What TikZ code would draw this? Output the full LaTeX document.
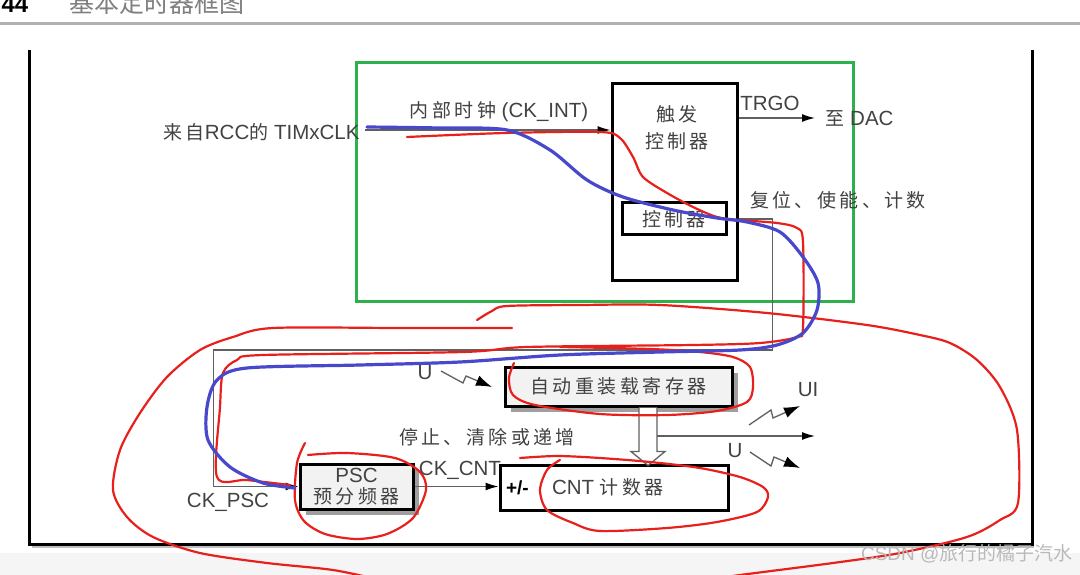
\documentclass[tikz,border=0pt]{standalone}
\usepackage{fontspec}
\setmainfont{Liberation Sans}
\newfontfamily\cjk[LetterSpace=18]{Noto Sans CJK SC}
\newfontfamily\cjktight{Noto Sans CJK SC}
\newcommand{\zh}[1]{{\cjk\fontsize{19}{22}\selectfont #1}}
\usetikzlibrary{positioning,arrows.meta,shadows}
\definecolor{inkgray}{RGB}{66,66,66}
\definecolor{penred}{RGB}{232,32,28}
\definecolor{penblue}{RGB}{72,72,205}
\definecolor{framegreen}{RGB}{46,176,74}
\definecolor{boxfill}{RGB}{242,242,242}

\begin{document}
\begin{tikzpicture}[
	x=1pt, y=-1pt,
	font=\fontsize{20.5}{23}\selectfont,
	text=inkgray
]
\tikzset{
    blk/.style = {draw=black, line width=3pt, fill=white, inner sep=0pt},
    regblk/.style = {blk, fill=boxfill, drop shadow={shadow xshift=6pt, shadow yshift=-6pt, fill=gray!75, opacity=1}},
    cjklabel/.style = {font=\cjk\fontsize{19}{22}\selectfont},
    wire/.style = {draw=gray!75!black, line width=1.3pt},
    sigarrow/.style = {-{Latex[length=13pt,width=8pt,color=black]}},
    zap/.style = {wire, line join=miter, -{Latex[length=16pt,width=11pt,color=black]}},
    redpen/.style = {draw=penred, line width=2.2pt, line cap=round, line join=round},
    bluepen/.style = {draw=penblue, line width=3.2pt, line cap=round, line join=round},
}
    \clip (0,0) rectangle (1080,575);
    \fill[white] (0,0) rectangle (1080,575);
    \fill[gray!8] (0,553) rectangle (1080,575);

    % page header, cut off at the top
    \node[anchor=base west, font=\fontsize{24}{24}\selectfont\bfseries, text=black] (pgno) at (-2,13) {44};
    \node[anchor=base west, font=\cjktight\fontsize{25}{25}\selectfont, text=gray] (title) at (66,13) {基本定时器框图};
    \draw[gray!60, line width=3pt] (0,24) -- (1080,24);

    % frame of the figure
    \draw[gray!50, line width=2pt] (32,547) -- (1034,547);
    \draw[line width=3pt, black] (29,50) -- (29,544) -- (1032,544) -- (1032,50);
    \draw[framegreen, line width=3pt] (356,63) rectangle (853,301);

    % blocks
    \node[blk, minimum width=125pt, minimum height=196pt] (trig) at (674.5,182) {};
    \node[align=center, font=\cjk\fontsize{19}{27}\selectfont] (trigtxt) at (677,128) {触\hspace{4pt}发\\控制器};
    \node[blk, minimum width=104pt, minimum height=32pt, cjklabel] (ctrl) at (674,219) {控制器};
    \node[regblk, minimum width=227pt, minimum height=39pt, cjklabel] (arrreg) at (618.5,386.5) {自动重装载寄存器};
    \node[regblk, minimum width=113pt, minimum height=45pt, align=center, font=\fontsize{20.5}{21}\selectfont] (psc) at (356.5,486.5) {PSC\\\zh{预分频器}};
    \node[blk, minimum width=228pt, minimum height=45pt] (cnt) at (614,487.5) {};
    \node[anchor=west, font=\fontsize{19}{22}\selectfont\bfseries, text=black] (pm) at ([xshift=4pt]cnt.west) {+/-};
    \node[anchor=west] (cnttxt) at ([xshift=50pt]cnt.west) {CNT \zh{计数器}};

    % clock in and trigger out
    \coordinate (clkin) at (365,130);
    \node[anchor=east] (rcc) at (363,132) {\zh{来自}RCC\zh{的} TIMxCLK};
    \draw[wire, sigarrow] (clkin) -- (clkin -| trig.west);
    \node (ckint) at (499,112) {\zh{内部时钟} (CK\_INT)};
    \coordinate (trgoend) at (815,118);
    \draw[wire, sigarrow] (trgoend -| trig.east) -- (trgoend);
    \node (trgo) at (770,103) {TRGO};
    \node[anchor=west] (dac) at (822,118) {\zh{至} DAC};
    \node[cjklabel] (rst) at (838,200) {复位、使能、计数};

    % CK_PSC and CK_CNT
    \draw[wire, sigarrow] (ctrl.east -| trig.east) -- ++(34,0) -- ++(0,131) -| ([xshift=-85pt]psc.west) -- (psc.west);
    \node (ckpsc) at (228,502) {CK\_PSC};
    \draw[wire, sigarrow] (psc.east) -- (cnt.west |- psc.east);
    \node (ckcnt) at (460,470) {CK\_CNT};
    \node[cjklabel] (stoptxt) at (487,437) {停止、清除或递增};

    % update events
    \node (uarr) at (425,373) {U};
    \draw[zap] (441,371) -- ++(22,12) -- ++(3,-7) -- ++(26,11);
    \draw[wire, fill=white] ([xshift=20.5pt]arrreg.south) -- ++(0,44) -- ++(-8,0) -- ++(17,14) -- ++(17,-14) -- ++(-8,0) -- ++(0,-44);
    \coordinate (updsrc) at (657,436);
    \coordinate (updend) at (815,436);
    \draw[wire, sigarrow] (updsrc) -- (updend);
    \node (ui) at (808,390) {UI};
    \draw[zap] (749,425) -- ++(22,-15) -- ++(2,8) -- ++(27,-12);
    \node (uevt) at (735,451) {U};
    \draw[zap] (750,452) -- ++(21,14) -- ++(3,-9) -- ++(26,11);

    % pen marks over the screenshot
    \draw[redpen] plot[smooth, tension=0.5] coordinates {(407,137) (505,133) (600,132) (620,138) (633,157) (643,177) (667,193) (693,207) (717,217) (740,220) (777,223) (797,228) (803,242) (803,327) (797,337) (760,343) (693,345) (527,347) (463,352) (263,355) (237,360) (223,373) (220,407) (217,477) (247,480) (290,485)};
    \draw[redpen] plot[smooth, tension=0.5] coordinates {(512,328) (400,328) (273,328) (233,337) (200,350) (167,377) (140,413) (120,450) (113,490) (127,517) (153,537) (200,553) (267,563) (333,570) (380,580)};
    \draw[redpen] plot[smooth, tension=0.5] coordinates {(477,320) (492,311) (507,306) (580,305) (660,305) (767,313) (867,325) (920,335) (950,343) (977,360) (1000,387) (1017,430) (1018,503) (1000,520) (967,537) (900,553) (833,563) (733,576) (700,582)};
    \draw[redpen] plot[smooth, tension=0.5] coordinates {(305,443) (297,463) (295,500) (304,521) (325,534) (357,539) (387,534) (413,518) (426,490) (420,472) (395,458) (347,453) (308,455)};
    \draw[redpen] plot[smooth, tension=0.5] coordinates {(560,347) (650,349) (700,352) (733,357) (750,367) (753,387) (747,402) (717,411) (667,415) (600,414) (535,405) (513,395) (509,378) (514,363)};
    \draw[redpen] plot[smooth, tension=0.5] coordinates {(520,458) (557,456) (600,458) (650,462) (700,468) (740,477) (763,487) (768,497) (757,512) (717,522) (667,528) (600,531) (573,523) (547,510) (540,490) (547,470) (560,460)};
    \draw[bluepen] plot[smooth, tension=0.5] coordinates {(367,127) (440,128) (507,130) (550,150) (587,180) (623,197) (673,210) (717,218) (747,222) (780,232) (803,257) (818,283) (817,310) (803,333) (777,345) (740,350) (660,352) (560,355) (460,362) (360,365) (247,368) (217,380) (207,407) (208,440) (230,467) (263,483) (295,488)};

    \node[anchor=east, font=\fontsize{19}{22}\selectfont, text=gray!55] (mark) at (1076,554) {CSDN @{\cjktight 旅行的橘子汽水}};
\end{tikzpicture}
\end{document}
